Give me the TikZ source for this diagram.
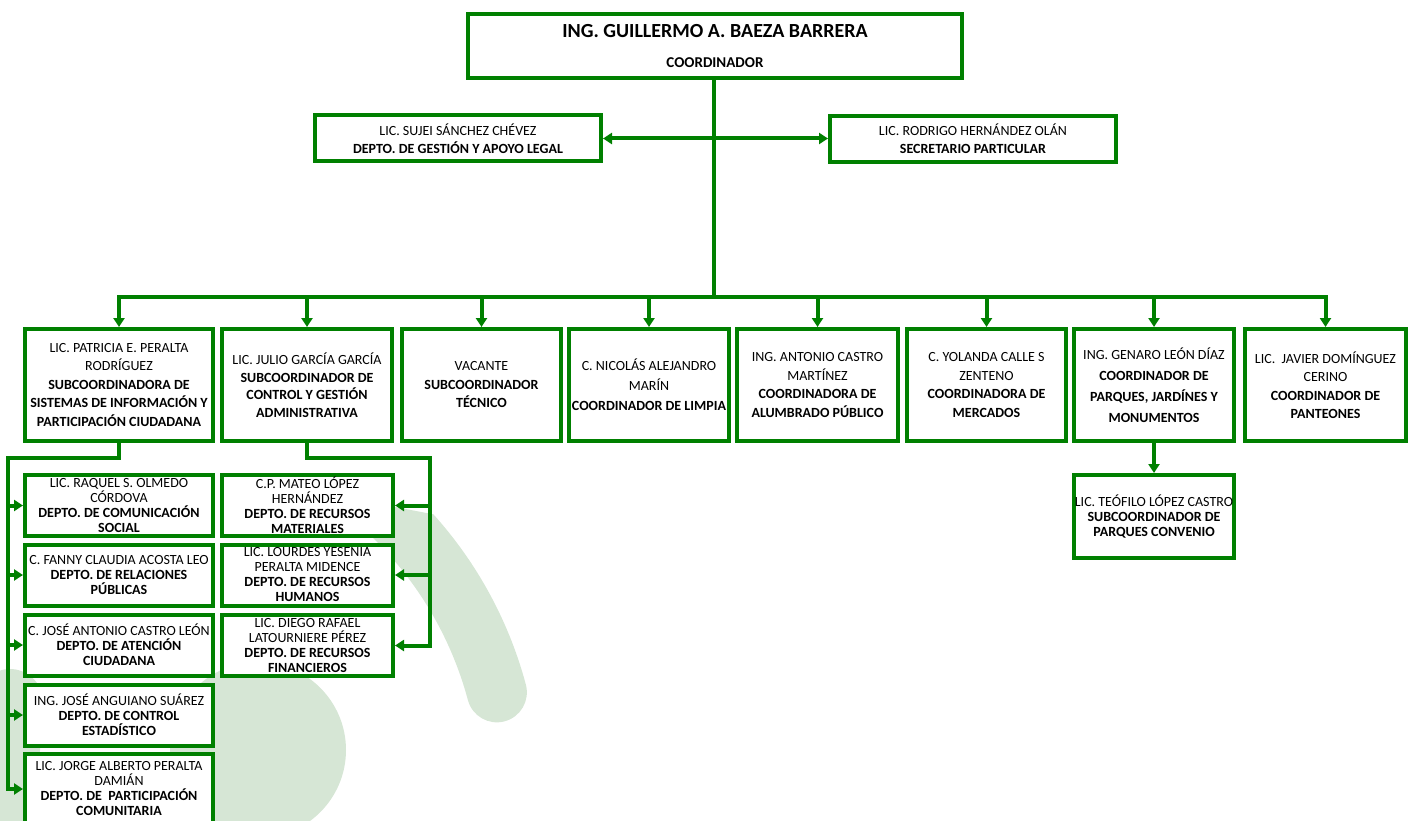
\documentclass[tikz,border=0pt]{standalone}
\usepackage{fontspec}
\setmainfont{Carlito}
\usetikzlibrary{arrows.meta, positioning}

\definecolor{verde}{RGB}{0,128,0}
\definecolor{marca}{RGB}{214,230,213}

\tikzset{
  cargo/.style={draw=verde, line width=4pt, fill=white, align=center, inner sep=0pt,
    minimum height=112pt, font=\fontsize{14}{18.5}\selectfont},
  depto/.style={cargo, minimum width=188pt, minimum height=61pt, font=\fontsize{14}{15}\selectfont},
  linea/.style={draw=verde, line width=4pt, line cap=rect},
  flecha/.style={draw=verde, line width=4pt, -{Triangle[length=9pt,width=11pt]}},
}

\begin{document}
\begin{tikzpicture}[x=1pt,y=1pt]
\useasboundingbox (0,0) rectangle (1417,-821);
% marca de agua
\fill [marca] (390,-506) -- ([shift={(42:415)}]125,-792) arc (42:15:415) arc (15:-165:30) arc (15:50:355) -- cycle;
\fill [marca] (258,-750) circle (88pt);
\draw [marca, line width=66pt, line cap=round] (10,-702) -- (0,-860);

% coordinacion
\node [cargo, minimum width=494pt, minimum height=64pt, font=\bfseries\fontsize{15}{30}\selectfont] (coord) at (715,-46)
  {{\fontsize{20}{30}\selectfont ING. GUILLERMO A. BAEZA BARRERA}\\COORDINADOR};
\node [cargo, minimum width=286pt, minimum height=46pt, font=\fontsize{14}{18}\selectfont] (sujei) at (458,-138.5)
  {LIC. SUJEI SÁNCHEZ CHÉVEZ\\\textbf{DEPTO. DE GESTIÓN Y APOYO LEGAL}};
\node [cargo, minimum width=286pt, minimum height=46pt, font=\fontsize{14}{18}\selectfont] (rodrigo) at (973,-139)
  {LIC. RODRIGO HERNÁNDEZ OLÁN\\\textbf{SECRETARIO PARTICULAR}};

% subcoordinaciones
\node [cargo, minimum width=188pt] (patricia) at (119,-385)
  {LIC. PATRICIA E. PERALTA\\RODRÍGUEZ\\\textbf{SUBCOORDINADORA DE}\\\textbf{SISTEMAS DE INFORMACIÓN Y}\\\textbf{PARTICIPACIÓN CIUDADANA}};
\node [cargo, minimum width=170pt, font=\fontsize{14}{17.5}\selectfont] (julio) at (307,-385)
  {LIC. JULIO GARCÍA GARCÍA\\\textbf{SUBCOORDINADOR DE}\\\textbf{CONTROL Y GESTIÓN}\\\textbf{ADMINISTRATIVA}};
\node [cargo, minimum width=159pt] (vacante) at (481.5,-385)
  {VACANTE\\\textbf{SUBCOORDINADOR}\\\textbf{TÉCNICO}};
\node [cargo, minimum width=160pt, font=\fontsize{14}{20}\selectfont] (nicolas) at (649,-385)
  {C. NICOLÁS ALEJANDRO\\MARÍN\\\textbf{COORDINADOR DE LIMPIA}};
\node [cargo, minimum width=161pt] (antonio) at (817.5,-385)
  {ING. ANTONIO CASTRO\\MARTÍNEZ\\\textbf{COORDINADORA DE}\\\textbf{ALUMBRADO PÚBLICO}};
\node [cargo, minimum width=159pt] (yolanda) at (986.5,-385)
  {C. YOLANDA CALLE S\\ZENTENO\\\textbf{COORDINADORA DE}\\\textbf{MERCADOS}};
\node [cargo, minimum width=160pt, font=\fontsize{14}{21}\selectfont] (genaro) at (1154,-385)
  {ING. GENARO LEÓN DÍAZ\\\textbf{COORDINADOR DE}\\\textbf{PARQUES, JARDÍNES Y}\\\textbf{MONUMENTOS}};
\node [cargo, minimum width=161pt] (javier) at (1325.5,-385)
  {LIC.\ \ JAVIER DOMÍNGUEZ\\CERINO\\\textbf{COORDINADOR DE}\\\textbf{PANTEONES}};
\node [depto, minimum width=160pt, minimum height=83pt] (teofilo) at (1154,-516.5)
  {LIC. TEÓFILO LÓPEZ CASTRO\\\textbf{SUBCOORDINADOR DE}\\\textbf{PARQUES CONVENIO}};

% departamentos
\node [depto] (raquel) at (119,-505.5)
  {LIC. RAQUEL S. OLMEDO\\CÓRDOVA\\\textbf{DEPTO. DE COMUNICACIÓN}\\\textbf{SOCIAL}};
\node [depto] (fanny) at (119,-575)
  {C. FANNY CLAUDIA ACOSTA LEO\\\textbf{DEPTO. DE RELACIONES}\\\textbf{PÚBLICAS}};
\node [depto] (joseantonio) at (119,-645)
  {C. JOSÉ ANTONIO CASTRO LEÓN\\\textbf{DEPTO. DE ATENCIÓN}\\\textbf{CIUDADANA}};
\node [depto] (anguiano) at (119,-715)
  {ING. JOSÉ ANGUIANO SUÁREZ\\\textbf{DEPTO. DE CONTROL}\\\textbf{ESTADÍSTICO}};
\node [depto, minimum height=70pt] (jorge) at (119,-789)
  {LIC. JORGE ALBERTO PERALTA\\DAMIÁN\\\textbf{DEPTO. DE\ \ PARTICIPACIÓN}\\\textbf{COMUNITARIA}};
\node [depto, minimum width=171pt] (mateo) at (307.5,-505.5)
  {C.P. MATEO LÓPEZ\\HERNÁNDEZ\\\textbf{DEPTO. DE RECURSOS}\\\textbf{MATERIALES}};
\node [depto, minimum width=171pt] (lourdes) at (307.5,-575)
  {LIC. LOURDES YESENIA\\PERALTA MIDENCE\\\textbf{DEPTO. DE RECURSOS}\\\textbf{HUMANOS}};
\node [depto, minimum width=171pt] (diego) at (307.5,-645.5)
  {LIC. DIEGO RAFAEL\\LATOURNIERE PÉREZ\\\textbf{DEPTO. DE RECURSOS}\\\textbf{FINANCIEROS}};

% lineas
\coordinate (bus) at (714,-297);
\coordinate (lbus) at (8,-458);
\coordinate (rbus) at (430,-458);
\draw [linea] (coord.south -| bus) -- (bus);
\draw [flecha, {Triangle[length=9pt,width=11pt]}-{Triangle[length=9pt,width=11pt]}] (sujei.east) -- (sujei.east -| rodrigo.west);
\draw [linea] (patricia.north |- bus) -- (javier.north |- bus);
\foreach \n in {patricia,julio,vacante,nicolas,antonio,yolanda,genaro,javier}
  \draw [flecha] (\n.north |- bus) -- (\n.north);
\draw [flecha] (genaro.south) -- (teofilo.north);
\draw [linea] (patricia.south) |- (lbus) -- (lbus |- jorge.west);
\foreach \n in {raquel,fanny,joseantonio,anguiano,jorge}
  \draw [flecha] (lbus |- \n.west) -- (\n.west);
\draw [linea] (julio.south) |- (rbus) -- (rbus |- diego.east);
\foreach \n in {mateo,lourdes,diego}
  \draw [flecha] (rbus |- \n.east) -- (\n.east);
\end{tikzpicture}
\end{document}
